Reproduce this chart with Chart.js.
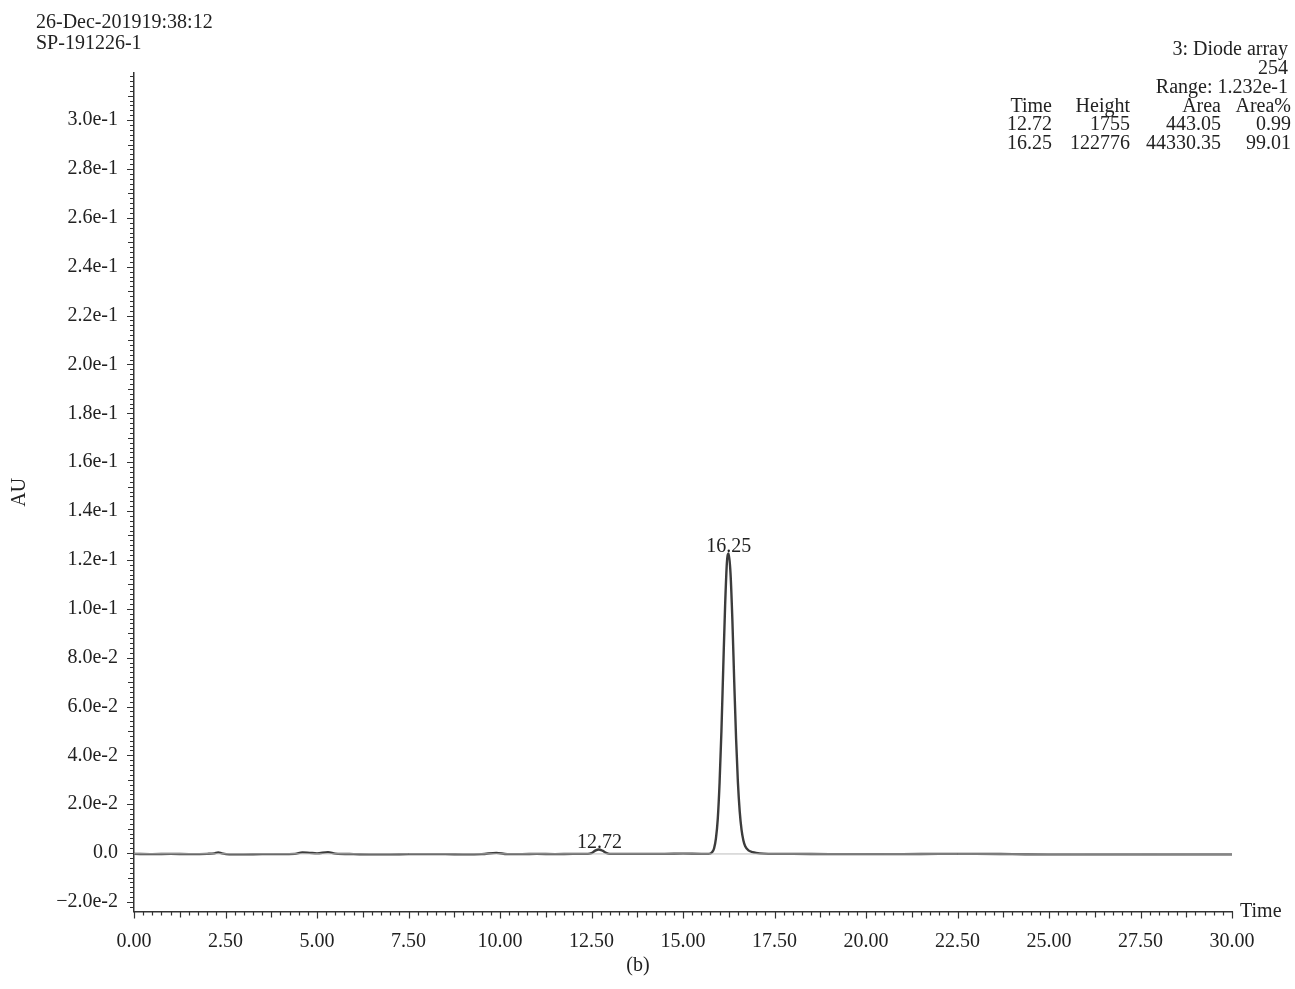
<!DOCTYPE html>
<html>
<head>
<meta charset="utf-8">
<script src="https://cdn.jsdelivr.net/npm/chart.js@4.4.1/dist/chart.umd.min.js"></script>
<style>
  html, body { margin: 0; padding: 0; background: #fff; }
  #wrap { width: 1295px; height: 989px; }
</style>
</head>
<body>
<div id="wrap"><canvas id="chrom" width="1295" height="989"></canvas></div>
<script>
// retention time (min) and absorbance (AU)
var times = [0.00, 0.50, 1.00, 1.50, 2.00, 2.20, 2.30, 2.40, 2.60, 3.00, 3.50, 4.00, 4.40, 4.60, 4.80, 5.00, 5.30, 5.50,
  6.00, 6.50, 7.00, 7.50, 8.00, 8.50, 9.00, 9.50, 9.90, 10.20, 10.60, 11.00, 11.50, 12.00, 12.40, 12.50, 12.60, 12.70,
  12.80, 12.90, 13.00, 13.50, 14.00, 14.50, 15.00, 15.50, 15.70, 15.80, 15.85, 15.90, 15.95, 16.00, 16.05, 16.10,
  16.15, 16.20, 16.25, 16.30, 16.35, 16.40, 16.45, 16.50, 16.55, 16.60, 16.65, 16.70, 16.80, 16.90, 17.00, 17.20,
  17.50, 18.00, 19.00, 20.00, 21.00, 22.00, 23.00, 24.00, 25.00, 26.00, 27.00, 28.00, 29.00, 30.00];
var absorbance = [-0.0003, -0.0004, -0.0003, -0.0004, -0.0003, -0.0001, 0.0003, -0.0001, -0.0005, -0.0005, -0.0004,
  -0.0004, -0.0003, 0.0003, 0.0001, -0.0001, 0.0004, -0.0002, -0.0004, -0.0005, -0.0005, -0.0004, -0.0004, -0.0004,
  -0.0005, -0.0004, 0.0001, -0.0004, -0.0004, -0.0003, -0.0004, -0.0003, -0.0003, 0.0000, 0.0010, 0.0015, 0.0010,
  0.0001, -0.0003, -0.0003, -0.0003, -0.0003, -0.0002, -0.0003, -0.0003, 0.0005, 0.0020, 0.0060, 0.0140, 0.0290,
  0.0500, 0.0760, 0.1010, 0.1190, 0.1226, 0.1140, 0.0950, 0.0700, 0.0470, 0.0290, 0.0170, 0.0095, 0.0052, 0.0028,
  0.0010, 0.0004, 0.0001, -0.0002, -0.0003, -0.0003, -0.0004, -0.0004, -0.0004, -0.0003, -0.0003, -0.0004, -0.0005,
  -0.0005, -0.0005, -0.0005, -0.0005, -0.0005];

// integration baseline
var baseTimes = [0.00, 30.00];
var baseLevel = [-0.0003, -0.0004];

// integrated peaks
var peakTimes = [12.72, 16.25];
var peakHeights = [1755, 122776];
var peakAreas = ['443.05', '44330.35'];
var peakAreaPct = ['0.99', '99.01'];

var xTicks = [0, 2.5, 5, 7.5, 10, 12.5, 15, 17.5, 20, 22.5, 25, 27.5, 30];
var xTickLabels = ['0.00', '2.50', '5.00', '7.50', '10.00', '12.50', '15.00', '17.50', '20.00', '22.50', '25.00', '27.50', '30.00'];
var yTicks = [-0.02, 0, 0.02, 0.04, 0.06, 0.08, 0.10, 0.12, 0.14, 0.16, 0.18, 0.20, 0.22, 0.24, 0.26, 0.28, 0.30];
var yTickLabels = ['\u22122.0e-2', '0.0', '2.0e-2', '4.0e-2', '6.0e-2', '8.0e-2', '1.0e-1', '1.2e-1', '1.4e-1', '1.6e-1',
  '1.8e-1', '2.0e-1', '2.2e-1', '2.4e-1', '2.6e-1', '2.8e-1', '3.0e-1'];

var FONT = '"Liberation Serif", "Times New Roman", serif';
var INK = '#222';
var AXIS = '#333';

function xy(xs, ys) {
  var out = [];
  for (var i = 0; i < xs.length; i++) out.push({x: xs[i], y: ys[i]});
  return out;
}

// tick marks at several lengths, placed through the scales
var tickMarks = {
  id: 'tickMarks',
  afterDraw: function(chart) {
    var ctx = chart.ctx, xs = chart.scales.x, ys = chart.scales.y;
    var area = chart.chartArea;
    ctx.save();
    ctx.strokeStyle = AXIS;
    ctx.lineWidth = 1.2;
    ctx.beginPath();
    for (var i = 0; i <= 120; i++) {
      var t = i * 0.25;
      var len = (i % 10 === 0) ? 7 : (i % 5 === 0 ? 6 : 4);
      var px = Math.round(xs.getPixelForValue(t)) + 0.5;
      ctx.moveTo(px, area.bottom);
      ctx.lineTo(px, area.bottom + len);
    }
    for (var j = -11; j <= 159; j++) {
      var v = j * 0.002;
      if (v < ys.min || v > ys.max) continue;
      var l = (j % 10 === 0) ? 7 : (j % 5 === 0 ? 6 : 4);
      var py = Math.round(ys.getPixelForValue(v)) + 0.5;
      ctx.moveTo(area.left, py);
      ctx.lineTo(area.left - l, py);
    }
    ctx.stroke();
    ctx.restore();
  }
};

// header, peak table, peak labels and captions
var annotations = {
  id: 'annotations',
  afterDraw: function(chart) {
    var ctx = chart.ctx, xs = chart.scales.x, ys = chart.scales.y;
    var area = chart.chartArea;
    ctx.save();
    ctx.fillStyle = INK;
    ctx.font = '20px ' + FONT;
    ctx.textBaseline = 'alphabetic';

    ctx.textAlign = 'left';
    ctx.fillText('26-Dec-201919:38:12', 36, 28);
    ctx.fillText('SP-191226-1', 36, 49);

    ctx.textAlign = 'right';
    ctx.fillText('3: Diode array', 1288, 55);
    ctx.fillText('254', 1288, 74);
    ctx.fillText('Range: 1.232e-1', 1288, 93);

    var cols = [1052, 1130, 1221, 1291];
    var head = ['Time', 'Height', 'Area', 'Area%'];
    for (var c = 0; c < head.length; c++) ctx.fillText(head[c], cols[c], 112);
    for (var r = 0; r < peakTimes.length; r++) {
      var y = 130 + r * 19;
      ctx.fillText(peakTimes[r].toFixed(2), cols[0], y);
      ctx.fillText(String(peakHeights[r]), cols[1], y);
      ctx.fillText(peakAreas[r], cols[2], y);
      ctx.fillText(peakAreaPct[r], cols[3], y);
    }

    ctx.textAlign = 'center';
    for (var p = 0; p < peakTimes.length; p++) {
      var px = xs.getPixelForValue(peakTimes[p]);
      var py = ys.getPixelForValue(peakHeights[p] / 1e6);
      ctx.fillText(peakTimes[p].toFixed(2), px, py - 1);
    }

    ctx.textAlign = 'left';
    ctx.textBaseline = 'middle';
    ctx.fillText('Time', area.right + 8, area.bottom);

    ctx.textAlign = 'center';
    ctx.fillText('(b)', 638, 966);
    ctx.restore();
  }
};

new Chart(document.getElementById('chrom'), {
  type: 'line',
  data: {
    datasets: [{
      data: xy(baseTimes, baseLevel),
      borderColor: '#bdbdbd',
      borderWidth: 1,
      pointRadius: 0,
      fill: false
    }, {
      data: xy(times, absorbance),
      borderColor: '#3c3c3c',
      borderWidth: 2.4,
      pointRadius: 0,
      cubicInterpolationMode: 'monotone',
      fill: false
    }]
  },
  options: {
    responsive: false,
    animation: false,
    events: [],
    layout: { padding: { left: 8, right: 63, top: 73, bottom: 0 } },
    plugins: { legend: { display: false }, tooltip: { enabled: false }, title: { display: false } },
    scales: {
      x: {
        type: 'linear',
        min: 0,
        max: 30,
        afterFit: function(s) { s.height = 77.5; },
        afterBuildTicks: function(s) { s.ticks = xTicks.map(function(v) { return {value: v}; }); },
        ticks: {
          padding: 18,
          maxRotation: 0,
          autoSkip: false,
          color: INK,
          font: { family: FONT, size: 20 },
          callback: function(v, i) { return xTickLabels[i]; }
        },
        grid: { drawOnChartArea: false, drawTicks: false },
        border: { display: true, color: AXIS, width: 1.5 }
      },
      y: {
        type: 'linear',
        min: -0.0239,
        max: 0.3193,
        afterFit: function(s) { s.width = 126; },
        afterBuildTicks: function(s) { s.ticks = yTicks.map(function(v) { return {value: v}; }); },
        ticks: {
          padding: 16,
          autoSkip: false,
          color: INK,
          font: { family: FONT, size: 20 },
          callback: function(v, i) { return yTickLabels[i]; }
        },
        title: {
          display: true,
          text: 'AU',
          color: INK,
          padding: 0,
          font: { family: FONT, size: 20 }
        },
        grid: { drawOnChartArea: false, drawTicks: false },
        border: { display: true, color: AXIS, width: 1.5 }
      }
    }
  },
  plugins: [tickMarks, annotations]
});
</script>
</body>
</html>
